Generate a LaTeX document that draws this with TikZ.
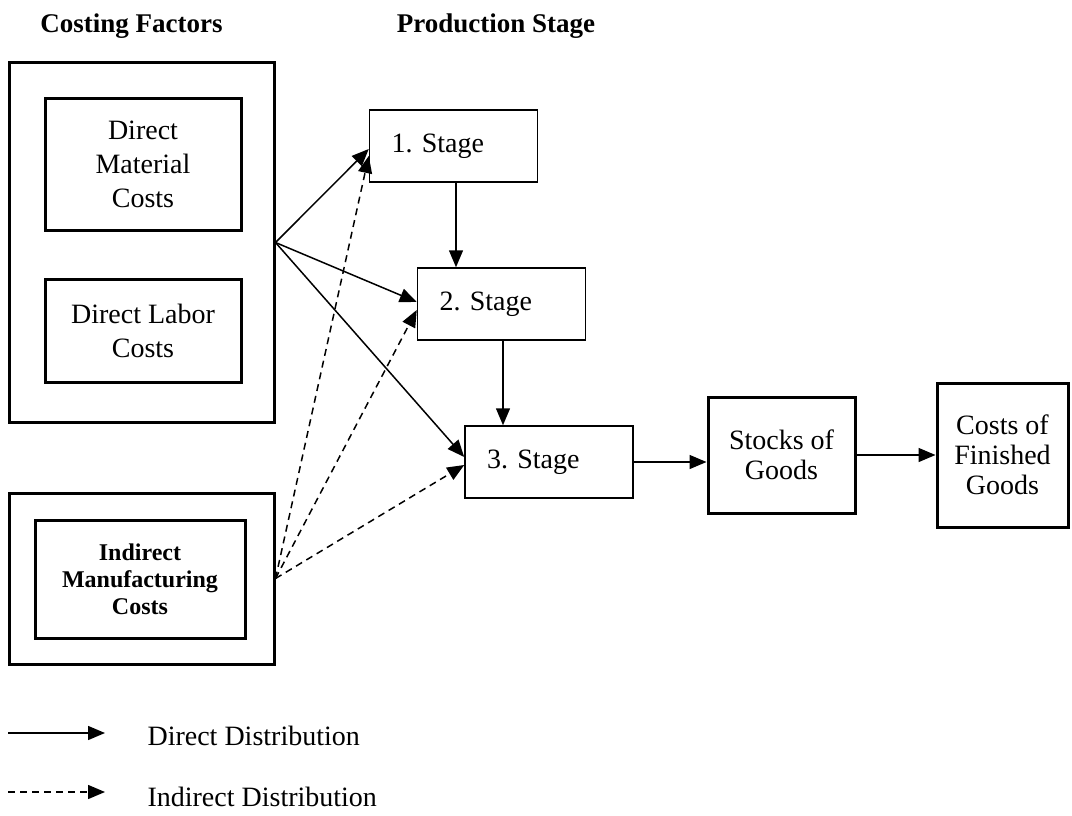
\documentclass[tikz,border=0pt]{standalone}
\usepackage{fontspec}
\setmainfont{Liberation Serif}
\usetikzlibrary{arrows.meta,calc}
\frenchspacing
\begin{document}
\begin{tikzpicture}[x=1pt,y=-1pt,
  heavy/.style={draw, line width=3pt, rectangle, inner sep=0pt, align=center,
    font=\fontsize{28}{34}\selectfont},
  stagebox/.style={draw, line width=1.5pt, rectangle, inner xsep=22pt, inner ysep=0pt,
    minimum height=72pt, text width=124pt, align=left, font=\fontsize{28}{34}\selectfont},
  arr/.style={line width=1.5pt, -{Triangle[length=17pt,width=14pt]}},
  darr/.style={arr, dash pattern=on 7pt off 5pt},
  title/.style={font=\fontsize{27}{32}\selectfont\bfseries, anchor=base},
  legtext/.style={anchor=base west, font=\fontsize{28}{34}\selectfont}
]
\useasboundingbox (0,0) rectangle (1072,816);

% column headings
\node[title] (t1) at (131.5,33) {Costing Factors};
\node[title] (t2) at (496,33) {Production Stage};

% costing factors
\node[heavy, minimum width=265pt, minimum height=359pt] (cf) at (141.5,242.5) {};
\node[heavy, minimum width=196pt, minimum height=131pt] (dmc) at (143,164.5)
  {\raisebox{-4pt}{\parbox{190pt}{\centering Direct\\Material\\Costs}}};
\node[heavy, minimum width=196pt, minimum height=103pt] (dlc) at (143,330.5)
  {\raisebox{-3pt}{\parbox{190pt}{\centering Direct Labor\\Costs}}};
\node[heavy, minimum width=265pt, minimum height=171pt] (icf) at (141.5,578.5) {};
\node[heavy, minimum width=210pt, minimum height=118pt,
  font=\fontsize{24}{27}\selectfont\bfseries] (imc) at (140,579) {Indirect\\Manufacturing\\Costs};

% production stages
\node[stagebox] (s1) at (453.5,146) {1. Stage};
\node[stagebox] (s2) at (501.5,304) {2. Stage};
\node[stagebox] (s3) at (549,462) {3. Stage};

% results
\node[heavy, minimum width=147pt, minimum height=116pt,
  font=\fontsize{28}{30}\selectfont] (stk) at (781.5,455) {Stocks of\\Goods};
\node[heavy, minimum width=131pt, minimum height=144pt,
  font=\fontsize{28}{30}\selectfont] (cfg) at (1002.5,455) {Costs of\\Finished\\Goods};

% direct distribution
\draw[arr] (cf.east) -- ($(s1.west)+(0,3)$);
\draw[arr] (cf.east) -- ($(s2.west)+(0,-2)$);
\draw[arr] (cf.east) -- ($(s3.west)+(0,-5)$);

% indirect distribution
\draw[darr] (icf.east) -- ($(s1.west)+(0,10)$);
\draw[darr] (icf.east) -- ($(s2.west)+(0,6)$);
\draw[darr] (icf.east) -- ($(s3.west)+(0,3)$);

% flow between stages
\draw[arr] ($(s1.south)+(2.5,0)$) -- ($(s1.south |- s2.north)+(2.5,0)$);
\draw[arr] ($(s2.south)+(1.5,0)$) -- ($(s2.south |- s3.north)+(1.5,0)$);
\draw[arr] (s3.east) -- (s3.east -| stk.west);
\draw[arr] (stk.east) -- (cfg.west);

% legend
\coordinate (l1a) at (8,733);
\coordinate (l1b) at (105,733);
\coordinate (l2a) at (8,792);
\coordinate (l2b) at (105,792);
\draw[arr] (l1a) -- (l1b);
\draw[darr] (l2a) -- (l2b);
\node[legtext] (l1t) at (144,745) {Direct Distribution};
\node[legtext] (l2t) at (144,806) {Indirect Distribution};
\end{tikzpicture}
\end{document}
